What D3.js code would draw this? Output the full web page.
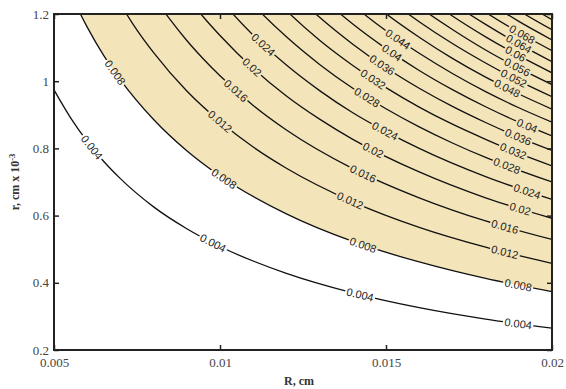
<!DOCTYPE html>
<html>
<head>
<meta charset="utf-8">
<script src="https://cdn.jsdelivr.net/npm/d3@7/dist/d3.min.js"></script>
<style>
  body { margin: 0; background: #fff; }
</style>
</head>
<body>
<svg id="chart" width="566" height="389"></svg>
<script>
// ticks
const xTicks = [0.005, 0.01, 0.015, 0.02];
const yTicks = [0.2, 0.4, 0.6, 0.8, 1, 1.2];

// contour lines, [R (cm), r (cm x 1e-3)]
const line004 = [[0.005,0.974],[0.0055,0.891],[0.006,0.821],[0.0065,0.761],[0.007,0.710],[0.008,0.626],[0.009,0.561],[0.010,0.508],[0.012,0.428],[0.014,0.370],[0.016,0.326],[0.018,0.292],[0.020,0.265]];
const line008 = [[0.0055,1.259],[0.006,1.161],[0.0065,1.076],[0.007,1.004],[0.008,0.886],[0.009,0.793],[0.010,0.718],[0.012,0.605],[0.014,0.523],[0.016,0.462],[0.018,0.413],[0.020,0.374]];
const line012 = [[0.0065,1.318],[0.007,1.230],[0.0075,1.152],[0.008,1.085],[0.009,0.971],[0.010,0.880],[0.011,0.804],[0.012,0.741],[0.014,0.641],[0.016,0.565],[0.018,0.506],[0.020,0.458]];
const line016 = [[0.0075,1.331],[0.008,1.252],[0.0085,1.183],[0.009,1.121],[0.0095,1.066],[0.010,1.016],[0.011,0.928],[0.012,0.855],[0.014,0.740],[0.016,0.653],[0.018,0.584],[0.020,0.529]];
const line020 = [[0.0085,1.323],[0.009,1.253],[0.0095,1.191],[0.010,1.136],[0.011,1.038],[0.012,0.956],[0.013,0.887],[0.014,0.827],[0.016,0.730],[0.018,0.653],[0.020,0.592]];
const line024 = [[0.0095,1.305],[0.010,1.244],[0.011,1.137],[0.012,1.048],[0.013,0.972],[0.014,0.906],[0.015,0.850],[0.016,0.800],[0.018,0.716],[0.020,0.648]];
const line028 = [[0.010,1.344],[0.011,1.228],[0.012,1.132],[0.013,1.050],[0.014,0.979],[0.015,0.918],[0.016,0.864],[0.017,0.816],[0.018,0.773],[0.020,0.700]];
const line032 = [[0.011,1.313],[0.012,1.210],[0.013,1.122],[0.014,1.047],[0.015,0.981],[0.016,0.923],[0.017,0.872],[0.018,0.827],[0.019,0.785],[0.020,0.748]];
const line036 = [[0.012,1.283],[0.013,1.190],[0.014,1.110],[0.015,1.040],[0.016,0.979],[0.017,0.925],[0.018,0.877],[0.019,0.833],[0.020,0.794]];
const line040 = [[0.012,1.353],[0.013,1.255],[0.014,1.170],[0.015,1.097],[0.016,1.032],[0.017,0.975],[0.018,0.924],[0.019,0.878],[0.020,0.837]];
const line044 = [[0.013,1.316],[0.014,1.227],[0.015,1.150],[0.016,1.083],[0.017,1.023],[0.018,0.969],[0.019,0.921],[0.020,0.878]];
const line048 = [[0.014,1.282],[0.015,1.201],[0.016,1.131],[0.017,1.068],[0.018,1.012],[0.019,0.962],[0.020,0.917]];
const line052 = [[0.014,1.334],[0.015,1.250],[0.016,1.177],[0.017,1.112],[0.018,1.054],[0.019,1.001],[0.020,0.954]];
const line056 = [[0.015,1.298],[0.016,1.221],[0.017,1.154],[0.018,1.093],[0.019,1.039],[0.020,0.990]];
const line060 = [[0.015,1.343],[0.016,1.264],[0.017,1.194],[0.018,1.132],[0.019,1.076],[0.020,1.025]];
const line064 = [[0.016,1.306],[0.017,1.233],[0.018,1.169],[0.019,1.111],[0.020,1.058]];
const line068 = [[0.016,1.346],[0.017,1.271],[0.018,1.205],[0.019,1.145],[0.020,1.091]];
const line072 = [[0.017,1.308],[0.018,1.240],[0.019,1.178],[0.020,1.123]];
const line076 = [[0.017,1.344],[0.018,1.274],[0.019,1.210],[0.020,1.153]];
const line080 = [[0.018,1.307],[0.019,1.242],[0.020,1.183]];

const levels = [0.004, 0.008, 0.012, 0.016, 0.02, 0.024, 0.028, 0.032, 0.036, 0.04,
                0.044, 0.048, 0.052, 0.056, 0.06, 0.064, 0.068, 0.072, 0.076, 0.08];
const lines = [line004, line008, line012, line016, line020, line024, line028, line032, line036, line040,
               line044, line048, line052, line056, line060, line064, line068, line072, line076, line080];

// shaded region lies above this level
const shadeLevel = 0.008;

// where the inline labels sit: [level, R]
const labelSpots = [
  [0.004,0.00614],[0.008,0.00684],[0.012,0.0100],[0.016,0.01048],[0.02,0.01096],[0.024,0.0113],
  [0.004,0.00979],[0.008,0.01012],
  [0.004,0.01422],[0.008,0.01431],[0.012,0.01392],[0.016,0.01431],[0.02,0.01461],[0.024,0.01497],
  [0.028,0.01443],[0.032,0.01461],[0.036,0.01488],[0.04,0.01518],[0.044,0.01536],
  [0.004,0.01898],[0.008,0.01898],[0.012,0.01858],[0.016,0.01858],[0.02,0.01904],[0.024,0.01925],
  [0.028,0.01864],[0.032,0.01883],[0.036,0.01898],[0.04,0.01925],
  [0.048,0.01865],[0.052,0.01885],[0.056,0.01895],[0.06,0.0189],[0.064,0.019],[0.068,0.0191]
];

const width = 566, height = 389;
const margin = { left: 54, right: 14, top: 14, bottom: 39 };

const x = d3.scaleLinear().domain([0.005, 0.02]).range([margin.left, width - margin.right]);
const y = d3.scaleLinear().domain([0.2, 1.2]).range([height - margin.bottom, margin.top]);

const svg = d3.select('#chart');
const defs = svg.append('defs');

defs.append('clipPath').attr('id', 'plotClip')
  .append('rect')
    .attr('x', x.range()[0]).attr('y', y.range()[1])
    .attr('width', x.range()[1] - x.range()[0])
    .attr('height', y.range()[0] - y.range()[1]);

const mask = defs.append('mask').attr('id', 'labelMask')
  .attr('maskUnits', 'userSpaceOnUse')
  .attr('x', 0).attr('y', 0).attr('width', width).attr('height', height);
mask.append('rect').attr('width', width).attr('height', height).attr('fill', '#fff');

const line = d3.line()
  .x(d => x(d[0]))
  .y(d => y(d[1]))
  .curve(d3.curveMonotoneX);

const plot = svg.append('g').attr('clip-path', 'url(#plotClip)');

// tan shading above the 0.008 contour
const shadePts = lines[levels.indexOf(shadeLevel)];
const xMax = x.domain()[1], yMax = y.domain()[1];
plot.append('path')
  .attr('d', line(shadePts) +
    `L${x(xMax)},${y(yMax)}L${x(shadePts[0][0])},${y(yMax)}Z`)
  .attr('fill', '#f4e4b9');

const contourG = plot.append('g').attr('mask', 'url(#labelMask)');
const paths = contourG.selectAll('path')
  .data(lines)
  .join('path')
    .attr('d', line)
    .attr('fill', 'none')
    .attr('stroke', '#111')
    .attr('stroke-width', 1.3);

// inline contour labels
function lengthAtX(node, px) {
  let lo = 0, hi = node.getTotalLength();
  for (let i = 0; i < 40; i++) {
    const mid = (lo + hi) / 2;
    if (node.getPointAtLength(mid).x < px) lo = mid; else hi = mid;
  }
  return lo;
}

const labelG = svg.append('g');
labelSpots.forEach(([lev, R]) => {
  const node = paths.nodes()[levels.indexOf(lev)];
  const len = lengthAtX(node, x(R));
  const p = node.getPointAtLength(len);
  const a = node.getPointAtLength(Math.max(0, len - 3));
  const b = node.getPointAtLength(len + 3);
  const ang = Math.atan2(b.y - a.y, b.x - a.x) * 180 / Math.PI;
  const tf = `translate(${p.x},${p.y}) rotate(${ang})`;
  const t = labelG.append('text')
    .attr('transform', tf)
    .attr('text-anchor', 'middle')
    .attr('dy', '0.35em')
    .attr('font-family', 'Liberation Sans, Arial, sans-serif')
    .attr('font-size', 11)
    .attr('fill', '#222')
    .text(String(lev));
  const w = t.node().getComputedTextLength();
  mask.append('rect')
    .attr('transform', tf)
    .attr('x', -w / 2 - 1.5).attr('y', -5)
    .attr('width', w + 3).attr('height', 10)
    .attr('fill', '#000');
});

// axes with inward ticks on all four sides
const fmt = d => String(d);
const axisFont = g => g.selectAll('text')
  .attr('font-family', 'Liberation Serif, Times New Roman, serif')
  .attr('font-size', 13)
  .attr('fill', '#444');

svg.append('g')
  .attr('transform', `translate(0,${y.range()[0]})`)
  .call(d3.axisBottom(x).tickValues(xTicks).tickSize(-5).tickPadding(8).tickFormat(fmt))
  .call(g => g.select('.domain').remove())
  .call(axisFont);

svg.append('g')
  .attr('transform', `translate(${x.range()[0]},0)`)
  .call(d3.axisLeft(y).tickValues(yTicks).tickSize(-5).tickPadding(5).tickFormat(fmt))
  .call(g => g.select('.domain').remove())
  .call(axisFont);

svg.append('g')
  .attr('transform', `translate(0,${y.range()[1]})`)
  .call(d3.axisTop(x).tickValues(xTicks).tickSize(-5).tickFormat(''))
  .call(g => g.select('.domain').remove());

svg.append('g')
  .attr('transform', `translate(${x.range()[1]},0)`)
  .call(d3.axisRight(y).tickValues(yTicks).tickSize(-5).tickFormat(''))
  .call(g => g.select('.domain').remove());

svg.selectAll('.tick line').attr('stroke', '#222').attr('stroke-width', 1.5);

// frame
svg.append('rect')
  .attr('x', x.range()[0]).attr('y', y.range()[1])
  .attr('width', x.range()[1] - x.range()[0])
  .attr('height', y.range()[0] - y.range()[1])
  .attr('fill', 'none')
  .attr('stroke', '#222')
  .attr('stroke-width', 2);

// axis titles
svg.append('text')
  .attr('x', (x.range()[0] + x.range()[1]) / 2 - 4)
  .attr('y', height - 4)
  .attr('text-anchor', 'middle')
  .attr('font-family', 'Liberation Serif, Times New Roman, serif')
  .attr('font-weight', 'bold')
  .attr('font-size', 12)
  .attr('fill', '#333')
  .text('R, cm');

const yTitle = svg.append('text')
  .attr('transform', `translate(19,${(y.range()[0] + y.range()[1]) / 2}) rotate(-90)`)
  .attr('text-anchor', 'middle')
  .attr('font-family', 'Liberation Serif, Times New Roman, serif')
  .attr('font-weight', 'bold')
  .attr('font-size', 12)
  .attr('fill', '#333');
yTitle.append('tspan').text('r, cm x 10');
yTitle.append('tspan').attr('dy', -4).attr('font-size', 8.5).text('-3');
</script>
</body>
</html>
